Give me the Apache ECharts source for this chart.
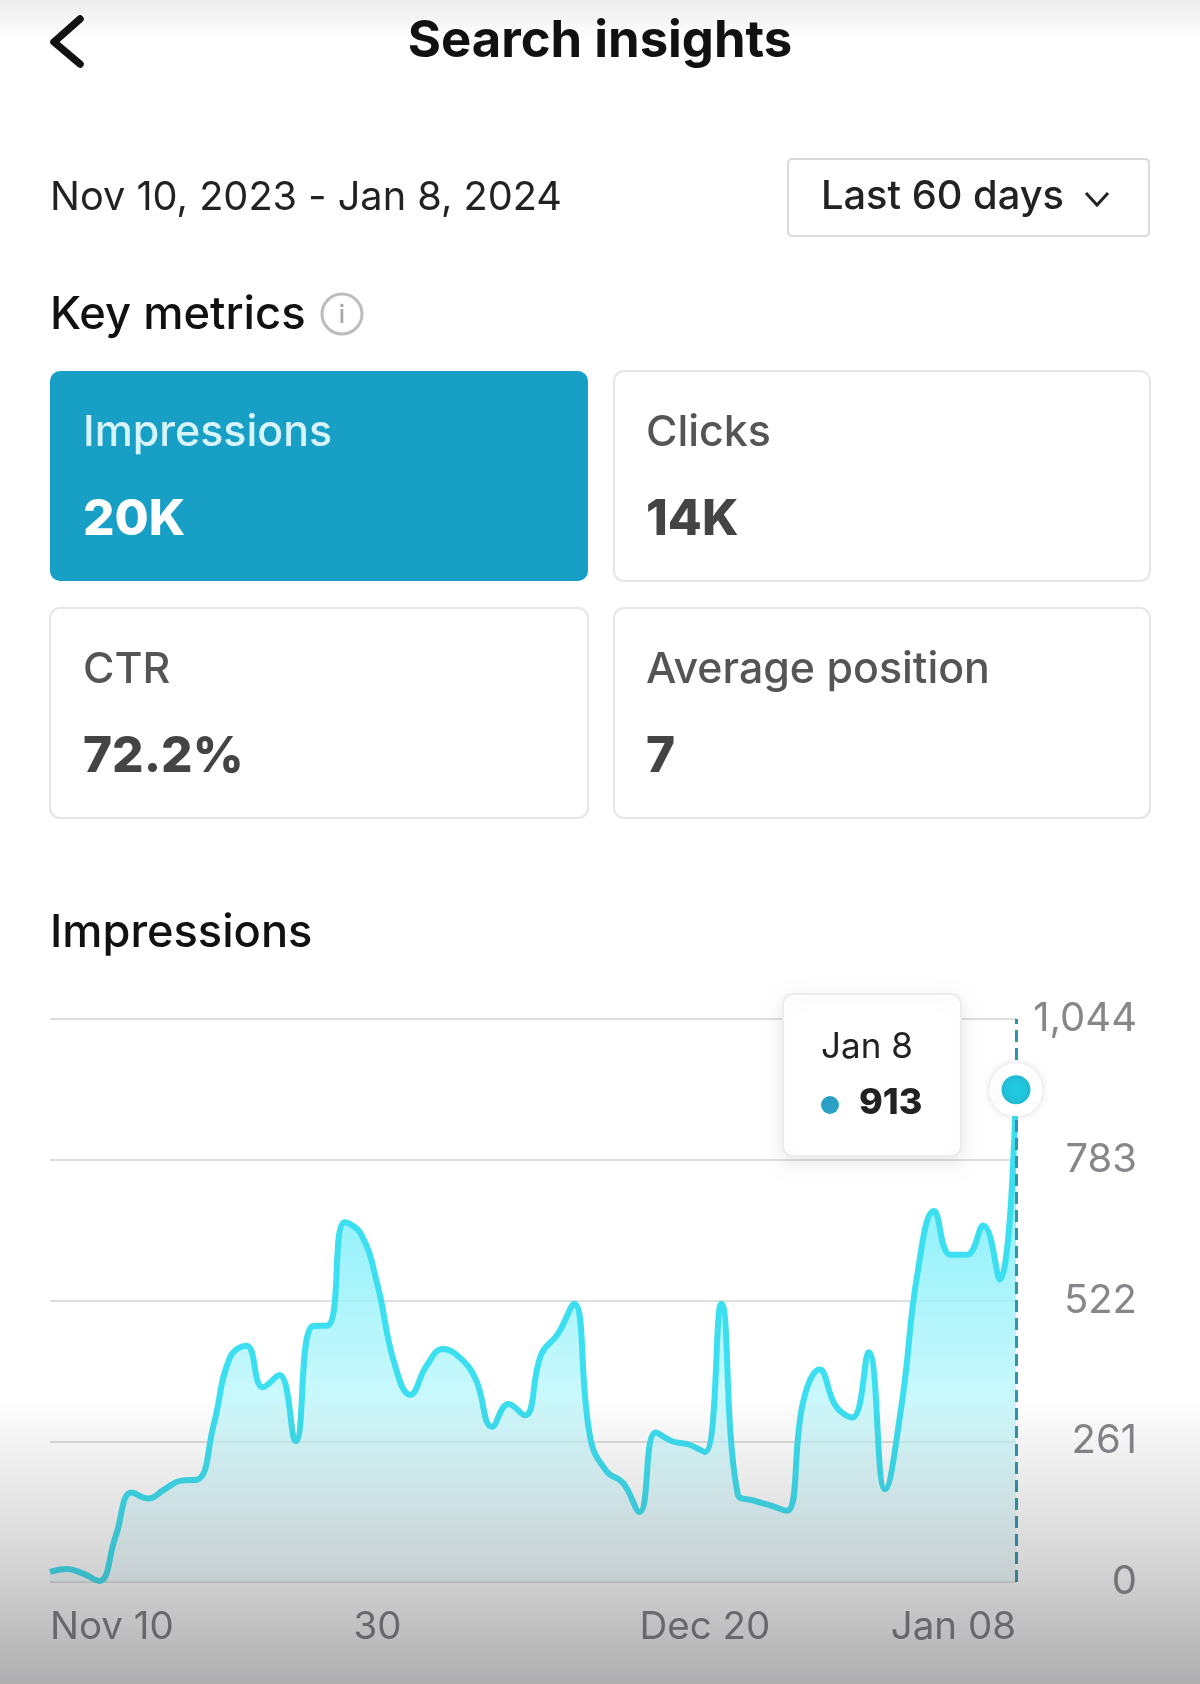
<!DOCTYPE html>
<html><head><meta charset="utf-8">
<style>html,body{margin:0;padding:0;background:#fff}#c{width:1200px;height:1684px}</style>
<script src="https://cdn.jsdelivr.net/npm/echarts@6/dist/echarts.min.js"></script>
</head><body><div id="c"></div>
<script>
const categories = ["Nov 10","Nov 11","Nov 12","Nov 13","Nov 14","Nov 15","Nov 16","Nov 17","Nov 18","Nov 19","Nov 20","Nov 21","Nov 22","Nov 23","Nov 24","Nov 25","Nov 26","Nov 27","Nov 28","Nov 29","Nov 30","Dec 1","Dec 2","Dec 3","Dec 4","Dec 5","Dec 6","Dec 7","Dec 8","Dec 9","Dec 10","Dec 11","Dec 12","Dec 13","Dec 14","Dec 15","Dec 16","Dec 17","Dec 18","Dec 19","Dec 20","Dec 21","Dec 22","Dec 23","Dec 24","Dec 25","Dec 26","Dec 27","Dec 28","Dec 29","Dec 30","Dec 31","Jan 1","Jan 2","Jan 3","Jan 4","Jan 5","Jan 6","Jan 7","Jan 8"];
const impressions = [19,24,16,2,84,166,155,172,188,190,292,417,438,361,384,261,474,476,667,645,551,409,347,401,432,417,376,288,330,309,422,459,516,267,205,184,130,277,261,255,241,516,163,151,142,132,334,394,326,305,426,172,326,576,688,607,607,661,561,913];
const xTickLabels = {0:"Nov 10",20:"30",40:"Dec 20",59:"Jan 08"};
const yTicks = [0,261,522,783,1044];
const metricCards = [
  {label:"Impressions",value:"20K"},{label:"Clicks",value:"14K"},
  {label:"CTR",value:"72.2%"},{label:"Average position",value:"7"}];
const FONT = 'Inter, "Noto Sans", sans-serif';
const lastIdx = impressions.length - 1;

function txt(x,y,text,size,weight,fill,align,z){
  return {type:'text',x,y,silent:true,z:z||10,style:{text,font:`${weight} ${size}px ${FONT}`,fill,textAlign:align||'left',textVerticalAlign:'middle'}};
}
const cardGeom = [[50,371,538,210],[614,371,536,210],[50,608,538,210],[614,608,536,210]];
const graphics = [
  {type:'rect',silent:true,z:1,shape:{x:0,y:0,width:1200,height:40},style:{fill:{type:'linear',x:0,y:0,x2:0,y2:1,colorStops:[{offset:0,color:'#ececec'},{offset:1,color:'#ffffff'}]}}},
  {type:'polyline',silent:true,z:10,shape:{points:[[80,19],[54,42],[80,64]]},style:{stroke:'#111',lineWidth:7.5,fill:null,lineCap:'round',lineJoin:'round'}},
  txt(600,42,'Search insights',50.8,700,'#111','center'),
  txt(50,198,'Nov 10, 2023 - Jan 8, 2024',39.7,400,'#222'),
  {type:'rect',silent:true,z:5,shape:{x:788,y:159,width:361,height:77,r:4},style:{fill:'#fff',stroke:'#d9d9d9',lineWidth:2}},
  txt(821,197,'Last 60 days',39.8,500,'#222'),
  {type:'polyline',silent:true,z:10,shape:{points:[[1086,193],[1097,205],[1108,193]]},style:{stroke:'#222',lineWidth:3,fill:null}},
  txt(50,315,'Key metrics',45.3,500,'#111'),
  {type:'circle',silent:true,z:10,shape:{cx:342,cy:314,r:20},style:{fill:'#fff',stroke:'#bdbdbd',lineWidth:3}},
  txt(342,315,'i',25,500,'#a8a8a8','center'),
  txt(50,933,'Impressions',45.2,500,'#111'),
  // tooltip card
  {type:'rect',silent:true,z:30,shape:{x:783,y:994,width:178,height:162,r:10},style:{fill:'#fff',stroke:'#ececec',lineWidth:2,shadowColor:'rgba(0,0,0,.09)',shadowBlur:18,shadowOffsetY:6}},
  txt(821,1047,categories[lastIdx],35,400,'#222','left',31),
  {type:'circle',silent:true,z:31,shape:{cx:830,cy:1105,r:9},style:{fill:'#2aa0c4'}},
  txt(859,1103,String(impressions[lastIdx]),36,800,'#222','left',31)
];
metricCards.forEach((m,i)=>{
  const [x,y,w,h]=cardGeom[i], on=i===0, dx=i%2?33:34;
  graphics.push({type:'rect',silent:true,z:5,shape:{x,y,width:w,height:h,r:10},style:on?{fill:'#189fc6'}:{fill:'#fff',stroke:'#e6e6e6',lineWidth:2}});
  graphics.push(txt(x+dx-1,y+62,m.label,42.9,500,on?'#d8f4fb':'#555'));
  graphics.push(txt(x+dx-1,y+149,m.value,49.5,800,on?'#fff':'#444'));
});
// camera-style gray fade over the bottom of the screenshot
graphics.push({type:'rect',silent:true,z:1000,zlevel:1,shape:{x:0,y:1395,width:1200,height:289},style:{fill:{type:'linear',x:0,y:0,x2:0,y2:1,colorStops:[{offset:0,color:'rgba(60,60,64,0)'},{offset:0.55,color:'rgba(60,60,64,0.2)'},{offset:1,color:'rgba(60,60,64,0.41)'}]}}});

const chart = echarts.init(document.getElementById('c'),null,{renderer:'canvas'});
chart.setOption({
  animation:false,
  backgroundColor:'#fff',
  graphic:graphics,
  grid:{left:50,right:184,top:1019,bottom:102,containLabel:false},
  xAxis:{type:'category',boundaryGap:false,data:categories,
    axisLine:{show:false},axisTick:{show:false},
    axisLabel:{interval:0,margin:26,fontFamily:FONT,fontSize:38.5,color:'#7d7d82',alignMinLabel:'left',alignMaxLabel:'right',
      formatter:(v,i)=>xTickLabels[i]||''}},
  yAxis:{type:'value',position:'right',min:yTicks[0],max:yTicks[4],interval:yTicks[1],
    axisLine:{show:false},axisTick:{show:false},
    splitLine:{lineStyle:{color:'#dedede',width:2}},
    axisLabel:{margin:121,align:'right',fontFamily:FONT,fontSize:40,padding:[4,0,0,0],color:'#86868b',formatter:v=>v.toLocaleString('en-US')}},
  series:[{
    type:'line',name:'Impressions',data:impressions,smooth:0.45,showSymbol:false,z:3,
    lineStyle:{color:'#3bdff0',width:6},
    areaStyle:{opacity:0.8,color:{type:'linear',x:0,y:0,x2:0,y2:1,colorStops:[{offset:0,color:'#6aecfa'},{offset:0.3,color:'#81effa'},{offset:0.6,color:'#b8f6fb'},{offset:1,color:'rgba(225,251,253,0.5)'}]}},
    markLine:{silent:true,symbol:'none',animation:false,label:{show:false},lineStyle:{type:'dashed',color:'#2f96ae',width:3},
      data:[[{coord:[lastIdx,yTicks[0]]},{coord:[lastIdx,yTicks[4]]}]]},
    markPoint:{silent:true,animation:false,symbol:'circle',symbolSize:41,label:{show:false},
      itemStyle:{color:'#22c7e0',borderColor:'#fff',borderWidth:12,shadowColor:'rgba(0,0,0,.12)',shadowBlur:10},
      data:[{coord:[lastIdx,impressions[lastIdx]]}]}
  }]
});
</script></body></html>
